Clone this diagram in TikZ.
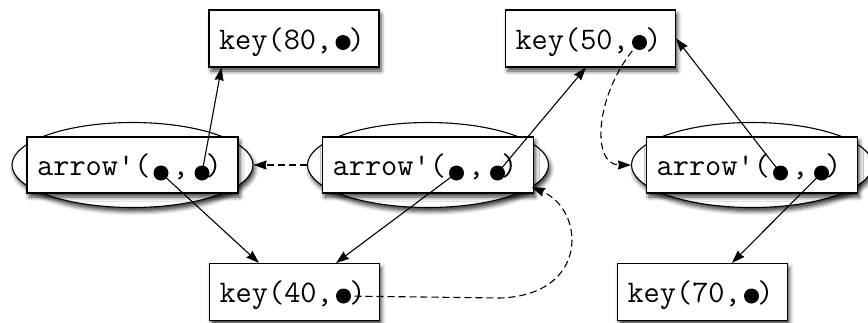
\documentclass[tikz,border=0pt]{standalone}
\usepackage{fontspec}
\usetikzlibrary{shapes.geometric,arrows.meta,shadows.blur}
\begin{document}
\begin{tikzpicture}[x=1pt,y=-1pt,
  shad/.style={blur shadow={shadow xshift=2pt, shadow yshift=-4pt, shadow blur radius=4pt, shadow opacity=75}},
  keybox/.style={draw, fill=white, line width=1.1pt, minimum width=170pt, minimum height=57pt,
    inner sep=0pt, text height=21pt, text depth=0pt,
    font=\ttfamily\fontsize{31.4}{33}\selectfont, shad},
  arrbox/.style={keybox, minimum width=211pt, minimum height=56pt},
  oval/.style={ellipse, draw, fill=white, line width=1.1pt, minimum width=241pt,
    minimum height=85pt, inner sep=0pt, shad},
  dotn/.style={circle, fill=black, inner sep=0pt, minimum size=15pt},
  conn/.style={line width=1.1pt, -{Stealth[length=13pt,width=9pt,inset=1pt]}},
  dconn/.style={conn, dash pattern=on 7pt off 4pt}]
\useasboundingbox (0,0) rectangle (868,322);

% ovals
\node[oval] (e1) at (132.5,165) {};
\node[oval] (e2) at (428,165) {};
\node[oval] (e3) at (752,165) {};

% arrow boxes
\node[arrbox] (a1) at (132.5,165) {\hspace*{-6pt}arrow\textquotesingle(\makebox[22.25pt]{},\makebox[16.75pt]{})};
\node[arrbox] (a2) at (428,165) {\hspace*{-6pt}arrow\textquotesingle(\makebox[22.25pt]{},\makebox[16.75pt]{})};
\node[arrbox] (a3) at (752,165) {\hspace*{-6pt}arrow\textquotesingle(\makebox[22.25pt]{},\makebox[16.75pt]{})};

% key boxes
\node[keybox] (k80) at (294,38.5) {\hspace*{-4pt}key(80,\makebox[16.5pt]{})};
\node[keybox] (k50) at (590.5,38.5) {\hspace*{-4pt}key(50,\makebox[16.5pt]{})};
\node[keybox] (k40) at (294.5,292) {\hspace*{-4pt}key(40,\makebox[16.5pt]{})};
\node[keybox] (k70) at (702.5,292) {\hspace*{-4pt}key(70,\makebox[16.5pt]{})};

% dots
\node[dotn] (k80d) at ([xshift=49pt,yshift=6.5pt]k80.base) {};
\node[dotn] (k50d) at ([xshift=49pt,yshift=6.5pt]k50.base) {};
\node[dotn] (k40d) at ([xshift=49pt,yshift=6.5pt]k40.base) {};
\node[dotn] (k70d) at ([xshift=49pt,yshift=6.5pt]k70.base) {};
\node[dotn] (a1d1) at ([xshift=28.5pt,yshift=2.5pt]a1.base) {};
\node[dotn] (a1d2) at ([xshift=69.5pt,yshift=2.5pt]a1.base) {};
\node[dotn] (a2d1) at ([xshift=28.5pt,yshift=2.5pt]a2.base) {};
\node[dotn] (a2d2) at ([xshift=69.5pt,yshift=2.5pt]a2.base) {};
\node[dotn] (a3d1) at ([xshift=28.5pt,yshift=2.5pt]a3.base) {};
\node[dotn] (a3d2) at ([xshift=69.5pt,yshift=2.5pt]a3.base) {};

% connectors
\draw[conn] (a1d2.center) -- ([xshift=13pt]k80.south west);
\draw[conn] (a1d1.center) -- ([xshift=50pt]k40.north west);
\draw[conn] (a2d1.center) -- ([xshift=127pt]k40.north west);
\draw[conn] (a2d2.center) -- ([xshift=81pt]k50.south west);
\draw[conn] (a3d1.center) -- (k50.east);
\draw[conn] (a3d2.center) -- ([xshift=115pt]k70.north west);
\draw[dconn] (e2.west) -- (e1.east);
\draw[dconn] (k50d.center) .. controls (595,90) and (590,165) .. (e3.west);
\draw[dconn] (k40d.center) -- (500,298) .. controls (590,295) and (585,210) .. (e2.-12);
\end{tikzpicture}
\end{document}
